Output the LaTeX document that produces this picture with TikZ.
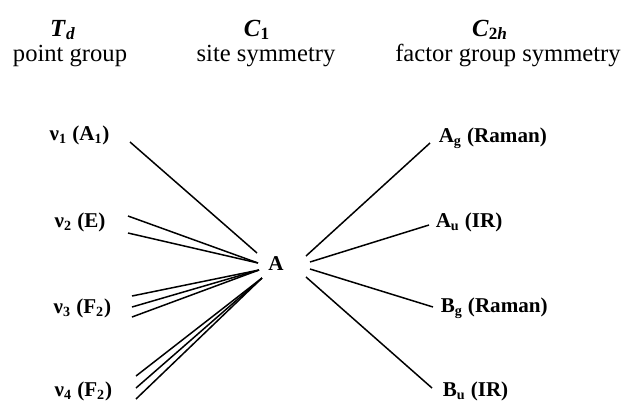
\documentclass[tikz,border=0pt]{standalone}
\usepackage{fontspec}
\setmainfont{Liberation Serif}
\usetikzlibrary{calc}

\begin{document}
\begin{tikzpicture}[x=0.02cm, y=-0.02cm, line width=0.85pt,
    every node/.style={inner sep=0pt, font=\fontsize{14}{16}\selectfont},
    head/.style={anchor=base},
    lbl/.style={anchor=base west, font=\fontsize{12}{14}\selectfont\bfseries}]
    \useasboundingbox (0,0) rectangle (625,400);
    % column headings
    \node[head] (td) at (63,36) {\textbf{\textit{T}\textsubscript{\textit{d}}}};
    \node[head] (pg) at (70,61) {point group};
    \node[head] (c1) at (257,36) {\textbf{\textit{C}\textsubscript{1}}};
    \node[head] (ss) at (266,61) {site symmetry};
    \node[head] (c2h) at (490,36) {\textbf{\textit{C}\textsubscript{2\textit{h}}}};
    \node[head] (fg) at (508,61) {factor group symmetry};
    % free ion modes
    \node[lbl] (v1) at (49,140) {ν\textsubscript{1} (A\textsubscript{1})};
    \node[lbl] (v2) at (54,227) {ν\textsubscript{2} (E)};
    \node[lbl] (v3) at (53,313) {ν\textsubscript{3} (F\textsubscript{2})};
    \node[lbl] (v4) at (54,396) {ν\textsubscript{4} (F\textsubscript{2})};
    % site
    \node[lbl, anchor=base] (a) at (276,270) {A};
    % factor group modes
    \node[lbl] (ag) at (438,142) {A\textsubscript{g} (Raman)};
    \node[lbl] (au) at (435,227) {A\textsubscript{u} (IR)};
    \node[lbl] (bg) at (440,312) {B\textsubscript{g} (Raman)};
    \node[lbl] (bu) at (442,396) {B\textsubscript{u} (IR)};

    \draw ($(v1.base west)+(81,2)$) -- ($(a.base)+(-19,-17)$);
    \foreach \dy in {-11,6}
        \draw ($(v2.base west)+(74,\dy)$) -- ($(a.base)+(-18,-7)$);
    \foreach \dy in {-17,-6,4}
        \draw ($(v3.base west)+(79,\dy)$) -- ($(a.base)+(-17,0)$);
    \foreach \dy in {-20,-8,3}
        \draw ($(v4.base west)+(82,\dy)$) -- ($(a.base)+(-14,8)$);

    \draw ($(a.base)+(30,-14)$) -- ($(ag.base west)+(-8,1)$);
    \draw ($(a.base)+(34,-8)$) -- ($(au.base west)+(-6,-2)$);
    \draw ($(a.base)+(34,-1)$) -- ($(bg.base west)+(-7,-5)$);
    \draw ($(a.base)+(30,7)$) -- ($(bu.base west)+(-10,-8)$);
\end{tikzpicture}
\end{document}
